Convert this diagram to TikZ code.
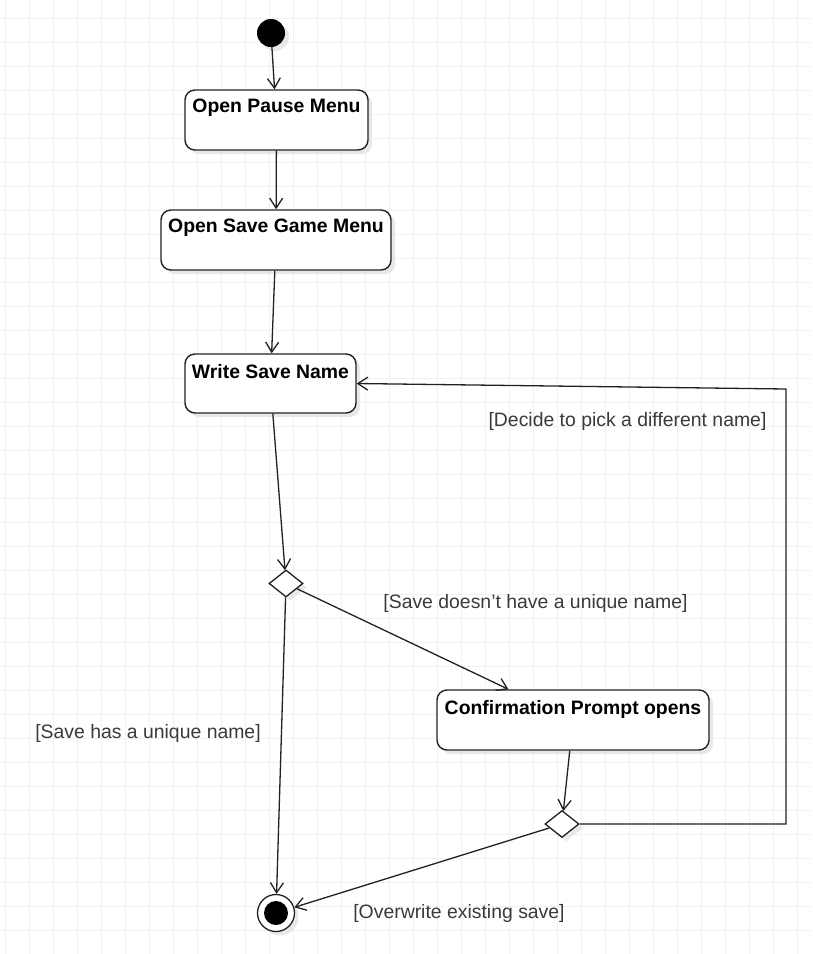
\documentclass[tikz,border=0pt]{standalone}
\usepackage{fontspec}
\setmainfont{Liberation Sans}
\usetikzlibrary{arrows.meta,shapes.geometric,shadows}
\definecolor{gridgray}{HTML}{F1F1F1}
\definecolor{ink}{HTML}{222222}
\definecolor{guard}{HTML}{3A3A3A}
\tikzset{
	shade box/.style={drop shadow={shadow xshift=4pt, shadow yshift=-4pt, fill=black!9, opacity=1}},
	action/.style={draw=ink, line width=1.4pt, rounded corners=10pt, fill=white, shade box, inner sep=0pt},
	actiontext/.style={inner sep=0pt, font=\fontsize{19.4pt}{23pt}\selectfont\bfseries, text=black},
	decision/.style={diamond, draw=ink, line width=1.3pt, fill=white, shade box, inner sep=0pt, minimum width=34pt, minimum height=27pt},
	guardtext/.style={inner sep=0pt, text=guard},
	flow/.style={ink, line width=1.3pt, -{Straight Barb[length=10pt, width=13pt]}}
}
\begin{document}
\begin{tikzpicture}[x=1pt, y=-1pt, font=\fontsize{19.4pt}{23pt}\selectfont]
	\useasboundingbox [fill=white] (0,0) rectangle (812,954);
	\foreach \i in {0,...,33}
		\draw [gridgray, line width=1pt] ({5.3+24*\i},0) -- ({5.3+24*\i},954);
	\foreach \i in {0,...,39}
		\draw [gridgray, line width=1pt] (0,{18.3+24*\i}) -- (812,{18.3+24*\i});

	\node [circle, fill=black, inner sep=0pt, minimum size=28pt, shade box] at (271, 33) (start) {};
	\node [action, minimum width=183pt, minimum height=60pt] at (276.5, 120) (pause) {};
	\node [action, minimum width=230pt, minimum height=60pt] at (276, 240) (savemenu) {};
	\node [action, minimum width=171pt, minimum height=59pt] at (270.5, 383.5) (name) {};
	\node [action, minimum width=272pt, minimum height=60pt] at (573, 720) (confirm) {};
	\node [decision] at (286, 583.5) (unique) {};
	\node [decision] at (562, 824) (overwrite) {};
	\node [circle, draw=ink, line width=1.3pt, fill=white, inner sep=0pt, minimum size=37pt, shade box,
		path picture={\fill [black] (path picture bounding box.center) circle (12pt);}] at (276, 913) (end) {};

	\node [actiontext] at (276.5, 108) (pausetext) {Open Pause Menu};
	\node [actiontext] at (276, 228) (savemenutext) {Open Save Game Menu};
	\node [actiontext] at (270.5, 372) (nametext) {Write Save Name};
	\node [actiontext] at (573, 709) (confirmtext) {Confirmation Prompt opens};

	\node [guardtext] at (535.5, 603) (notunique) {[Save doesn\char"0027t have a unique name]};
	\node [guardtext] at (148, 733) (isunique) {[Save has a unique name]};
	\node [guardtext] at (627.5, 421) (rename) {[Decide to pick a different name]};
	\node [guardtext] at (459, 913) (overwritetext) {[Overwrite existing save]};

	\coordinate (turn) at (786, 389);

	\draw [flow] (start) -- (pause);
	\draw [flow] (pause) -- (savemenu);
	\draw [flow] (savemenu) -- (name);
	\draw [flow] (name) -- (unique);
	\draw [flow] (unique) -- (confirm);
	\draw [flow] (unique) -- (end);
	\draw [flow] (confirm) -- (overwrite);
	\draw [flow] (overwrite) -- (end);
	\draw [flow] (overwrite.east) -| (turn) -- (name.east);
\end{tikzpicture}
\end{document}
